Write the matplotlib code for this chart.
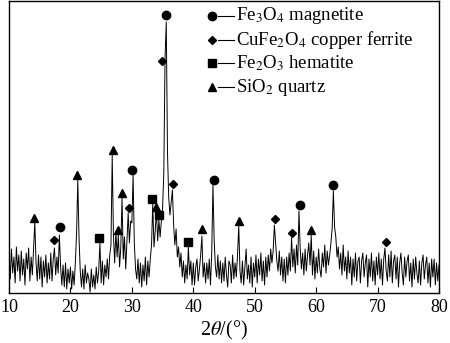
import numpy as np
import matplotlib
matplotlib.use("Agg")
import matplotlib.pyplot as plt

plt.rcParams['font.family'] = ['Liberation Serif', 'DejaVu Serif']
plt.rcParams['mathtext.fontset'] = 'stix'

# XRD pattern, 2theta from 10 to 80 in 0.2 deg steps (intensity in arbitrary units)
two_theta_start = 10.0
two_theta_step = 0.2
intensity = [
    40, 14, 44, 20, 36,   # 10
    10, 46, 22, 38, 12,   # 11
    42, 18, 34, 8, 40,    # 12
    24, 45, 12, 36, 18,   # 13
    44, 71, 30, 12, 38,   # 14
    14, 36, 6, 32, 16,    # 15
    38, 10, 30, 14, 40,   # 16
    12, 34, 45, 18, 36,   # 17
    20, 58, 26, 8, 28,    # 18
    6, 30, 4, 24, 10,     # 19
    26, 4, 22, 8, 30,     # 20
    60, 113, 55, 22, 6,   # 21
    24, 4, 28, 10, 20,    # 22
    14, 1, 24, 6, 18,     # 23
    4, 26, 10, 22, 50,    # 24
    10, 32, 8, 28, 16,    # 25
    34, 14, 38, 48, 138,  # 26
    58, 30, 62, 36, 58,   # 27
    26, 46, 95, 34, 56,   # 28
    24, 52, 80, 50, 72,   # 29
    70, 118, 50, 24, 14,  # 30
    34, 10, 30, 6, 28,    # 31
    12, 36, 8, 32, 16,    # 32
    34, 48, 89, 46, 62,   # 33
    82, 52, 73, 56, 72,   # 34
    85, 120, 235, 271, 140,  # 35
    95, 78, 90, 103, 68,  # 36
    48, 64, 36, 46, 26,   # 37
    40, 16, 32, 10, 28,   # 38
    14, 46, 18, 32, 8,    # 39
    30, 8, 26, 34, 12,    # 40
    24, 38, 57, 16, 30,   # 41
    10, 30, 14, 34, 8,    # 42
    40, 108, 52, 26, 16,  # 43
    38, 14, 32, 10, 30,   # 44
    12, 36, 18, 6, 32,    # 45
    28, 10, 38, 14, 30,   # 46
    16, 38, 67, 22, 10,   # 47
    32, 8, 26, 44, 14,    # 48
    28, 10, 36, 6, 30,    # 49
    16, 38, 10, 34, 18,   # 50
    40, 12, 32, 8, 36,    # 51
    16, 38, 22, 44, 30,   # 52
    42, 68, 50, 32, 22,   # 53
    42, 18, 36, 12, 34,   # 54
    10, 36, 18, 40, 22,   # 55
    55, 26, 44, 20, 48,   # 56
    28, 82, 45, 24, 40,   # 57
    18, 44, 22, 38, 50,   # 58
    28, 58, 18, 42, 14,   # 59
    36, 20, 44, 24, 16,   # 60
    40, 26, 48, 20, 42,   # 61
    28, 38, 50, 64, 102,  # 62
    66, 56, 36, 46, 24,   # 63
    40, 18, 48, 22, 36,   # 64
    14, 42, 20, 36, 8,    # 65
    34, 16, 40, 12, 32,   # 66
    36, 10, 32, 40, 16,   # 67
    30, 38, 6, 34, 16,    # 68
    40, 12, 32, 8, 36,    # 69
    18, 40, 14, 34, 8,    # 70
    34, 45, 22, 12, 38,   # 71
    16, 42, 10, 32, 38,   # 72
    14, 36, 6, 30, 40,    # 73
    20, 8, 36, 16, 32,    # 74
    38, 12, 30, 6, 34,    # 75
    14, 36, 20, 10, 32,   # 76
    8, 30, 38, 14, 28,    # 77
    36, 10, 30, 6, 34,    # 78
    16, 34, 8, 30, 12,    # 79
    28,                   # 80
]
two_theta = two_theta_start + two_theta_step * np.arange(len(intensity))

# phase markers above peaks
magnetite_pos = [18.3, 30.1, 35.6, 43.3, 57.3, 62.8]
magnetite_y = [66, 123, 278, 113, 88, 108]
ferrite_pos = [17.4, 29.5, 34.9, 36.65, 53.3, 56.1, 71.3]
ferrite_y = [53, 85, 232, 109, 74, 60, 51]
hematite_pos = [24.7, 33.3, 34.4, 39.15]
hematite_y = [55, 94, 78, 51]
quartz_pos = [14.1, 21.1, 26.85, 27.8, 28.4, 34.0, 41.4, 47.5, 59.2]
quartz_y = [75, 118, 143, 63, 100, 86, 64, 72, 63]

legend_labels = [r'Fe$_3$O$_4$ magnetite', r'CuFe$_2$O$_4$ copper ferrite',
                 r'Fe$_2$O$_3$ hematite', r'SiO$_2$ quartz']

fig = plt.figure(figsize=(4.5, 3.43), dpi=100)
ax = fig.add_axes([0.02, 0.1458, 0.9556, 0.8513])

ax.plot(two_theta, intensity, color='black', lw=0.7)

ax.plot(magnetite_pos, magnetite_y, 'o', color='black', ms=6, ls='none')
ax.plot(ferrite_pos, ferrite_y, 'D', color='black', ms=4.2, ls='none')
ax.plot(hematite_pos, hematite_y, 's', color='black', ms=5.5, ls='none')
ax.plot(quartz_pos, quartz_y, '^', color='black', ms=6, ls='none')

# legend drawn by hand: marker, short dash, text
markers = ['o', 'D', 's', '^']
sizes = [6, 4.2, 5.5, 6]
rows = [0.949, 0.866, 0.788, 0.705]
for m, s, yy, lab in zip(markers, sizes, rows, legend_labels):
    ax.plot([0.472], [yy], m, color='black', ms=s, transform=ax.transAxes, clip_on=False)
    ax.plot([0.487, 0.523], [yy, yy], color='black', lw=0.8, transform=ax.transAxes)
    ax.text(0.527, yy, lab, transform=ax.transAxes, fontsize=13.5, va='center', ha='left')

ax.set_xlim(10, 80)
ax.set_ylim(0, 292)
ax.set_xticks([10, 20, 30, 40, 50, 60, 70, 80])
ax.set_yticks([])
ax.tick_params(axis='x', direction='in', length=4, labelsize=13, pad=4)
for sp in ax.spines.values():
    sp.set_linewidth(1.0)
ax.set_xlabel(r'2$\theta$/(°)', fontsize=14.5, labelpad=2.5)

fig.savefig('out.png', dpi=100)
